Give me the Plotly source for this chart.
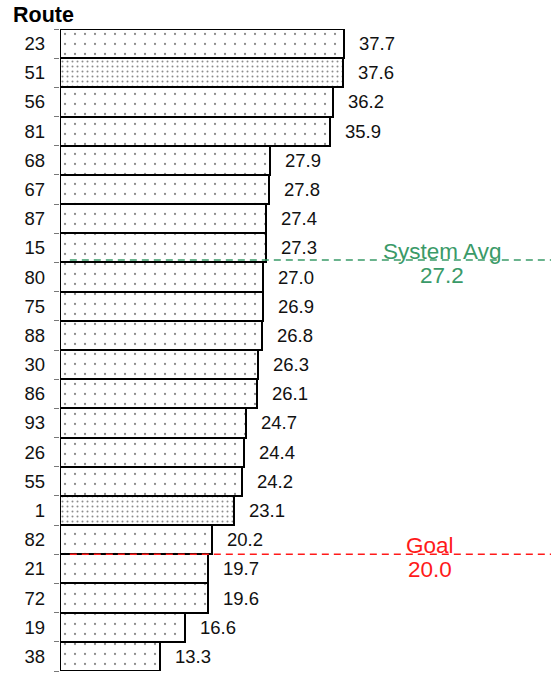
import plotly.graph_objects as go

routes = ["23", "51", "56", "81", "68", "67", "87", "15", "80", "75", "88",
          "30", "86", "93", "26", "55", "1", "82", "21", "72", "19", "38"]
values = [37.7, 37.6, 36.2, 35.9, 27.9, 27.8, 27.4, 27.3, 27.0, 26.9, 26.8,
          26.3, 26.1, 24.7, 24.4, 24.2, 23.1, 20.2, 19.7, 19.6, 16.6, 13.3]
highlighted = ["51", "1"]
system_avg = 27.2
goal = 20.0

FONT = "Liberation Sans, Arial, sans-serif"
n = len(routes)
idx = list(range(n))

shapes_pat = ["." for _ in routes]
sizes = [5 if r in highlighted else 10 for r in routes]
solid = [0.13 if r in highlighted else 0.04 for r in routes]

fig = go.Figure()
fig.add_trace(go.Bar(
    x=values, y=idx, orientation="h",
    marker=dict(
        color="white",
        line=dict(color="black", width=2),
        pattern=dict(shape=shapes_pat, size=sizes, solidity=solid,
                     fgcolor="#1a1a1a", bgcolor="white", fillmode="overlay"),
    ),
    width=1.0,
    hoverinfo="skip",
))

annotations = []
for i, v in zip(idx, values):
    annotations.append(dict(x=v, y=i, xref="x", yref="y", text=f"{v:.1f}",
                            showarrow=False, xanchor="left", xshift=13,
                            font=dict(family=FONT, size=18.5, color="#111")))


def boundary(th):
    return sum(1 for v in values if v >= th) - 0.5


ref_lines = [(system_avg, "System Avg", "#3a9a68", 0.778, -0.08),
             (goal, "Goal", "#ff1a1a", 0.754, 0.0)]
shapes = []
for val, name, col, xp, off in ref_lines:
    yb = boundary(val) + off
    shapes.append(dict(type="line", xref="paper", yref="y", x0=0.02, x1=1.0,
                       y0=yb, y1=yb, line=dict(color=col, width=1.5, dash="7px,5px")))
    annotations.append(dict(x=xp, y=yb, xref="paper", yref="y", text=name,
                            showarrow=False, yanchor="bottom", xanchor="center",
                            yshift=-6, font=dict(family=FONT, size=22.5, color=col)))
    annotations.append(dict(x=xp, y=yb, xref="paper", yref="y", text=f"{val:.1f}",
                            showarrow=False, yanchor="top", xanchor="center",
                            yshift=-1, font=dict(family=FONT, size=22.5, color=col)))

fig.update_layout(
    width=551, height=674,
    margin=dict(l=60, r=0, t=29, b=3, autoexpand=False),
    plot_bgcolor="white", paper_bgcolor="white",
    bargap=0,
    showlegend=False,
    shapes=shapes,
    annotations=annotations,
    title=dict(text="<b>Route</b>", x=13 / 551, xanchor="left", xref="container",
               y=1 - 14 / 674, yanchor="middle", yref="container",
               font=dict(family=FONT, size=21.5, color="black")),
    xaxis=dict(range=[0, 65.2], visible=False, showgrid=False, zeroline=False,
               automargin=False),
    yaxis=dict(tickmode="array", tickvals=idx, ticktext=routes,
               range=[n - 0.5, -0.5], showgrid=False, zeroline=False,
               ticks="", showline=False, automargin=False,
               ticklabelstandoff=14,
               tickfont=dict(family=FONT, size=18.5, color="#111")),
)

# boundary tick marks at category edges
fig.update_yaxes(minor=dict(tickmode="array", tickvals=[i - 0.5 for i in idx] + [n - 0.5],
                            ticks="outside", ticklen=5, tickcolor="#777", tickwidth=1,
                            showgrid=False))

fig.write_html("out.html", config={"displayModeBar": False},
               post_script="document.body.style.margin='0';document.body.style.padding='0';")
